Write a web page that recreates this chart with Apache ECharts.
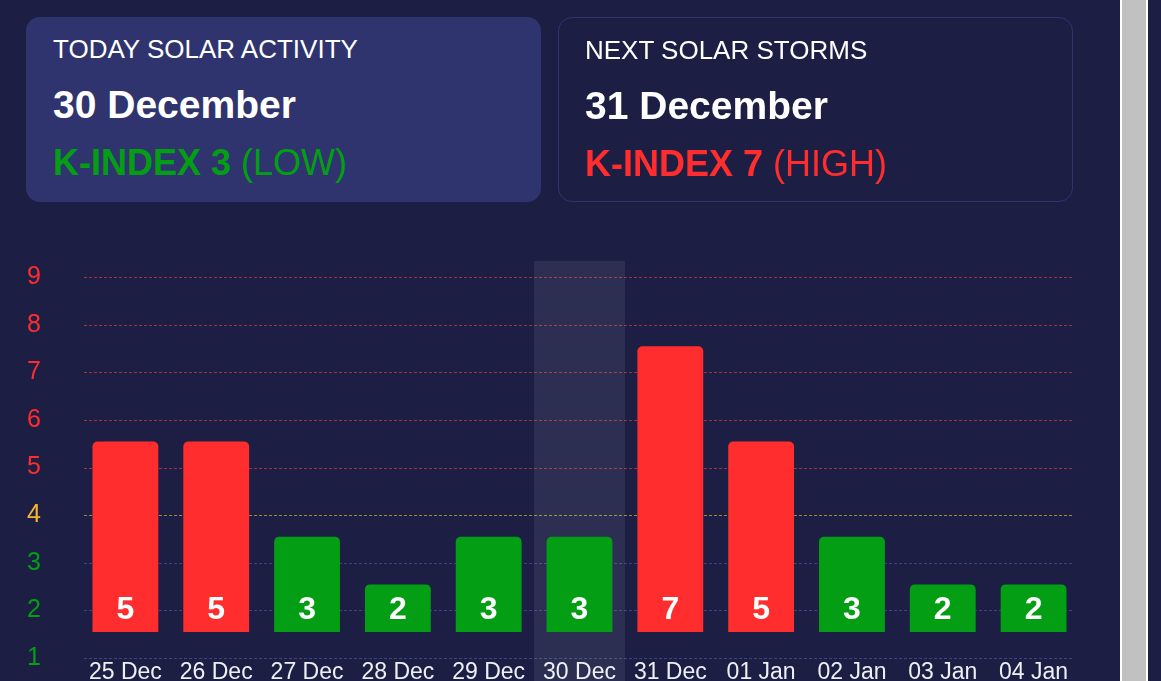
<!DOCTYPE html>
<html>
<head>
<meta charset="utf-8">
<script src="https://cdn.jsdelivr.net/npm/echarts@6/dist/echarts.min.js"></script>
<style>
  html, body { margin:0; padding:0; width:1161px; height:681px; overflow:hidden; background:#1c1f43; font-family:"Liberation Sans", Arial, sans-serif; }
  #chart { position:absolute; left:0; top:0; width:1161px; height:681px; }
  .card { position:absolute; top:17px; width:515px; height:185px; border-radius:14px; box-sizing:border-box; }
  .card1 { left:26px; background:#2f346e; }
  .card2 { left:558px; border:1px solid #2e3472; background:transparent; }
  .t { position:absolute; left:27px; color:#fff; white-space:nowrap; }
  .title { top:17px; font-size:26px; }
  .date { top:66px; font-size:39px; font-weight:bold; }
  .k { top:125px; font-size:36px; }
  .k b { font-weight:bold; }
  .card2 .t { left:26px; }
  .green { color:#039e14; }
  .red { color:#ff2d2d; }
  #scroll { position:absolute; left:1120px; top:0; width:24px; height:681px; background:#c1c1c1; border-left:2px solid #fff; border-right:2px solid #fff; }
</style>
</head>
<body>
<div id="chart"></div>
<div class="card card1">
  <div class="t title">TODAY SOLAR ACTIVITY</div>
  <div class="t date">30 December</div>
  <div class="t k green"><b>K-INDEX 3</b> (LOW)</div>
</div>
<div class="card card2">
  <div class="t title">NEXT SOLAR STORMS</div>
  <div class="t date">31 December</div>
  <div class="t k red"><b>K-INDEX 7</b> (HIGH)</div>
</div>
<div id="scroll"></div>
<script>
// ---- data ----
const categories = ['25 Dec','26 Dec','27 Dec','28 Dec','29 Dec','30 Dec','31 Dec','01 Jan','02 Jan','03 Jan','04 Jan'];
const kIndex = [5, 5, 3, 2, 3, 3, 7, 5, 3, 2, 2];
const yTickLabels = ['1','2','3','4','5','6','7','8','9'];
const todayIndex = 5;
const yMin = 1, yMax = 9;

// ---- styles ----
const RED = '#ff2d2d', GREEN = '#039e14', YELLOW = '#f6b531';
const FONT = '"Liberation Sans", Arial, sans-serif';
function levelColor(v) { return v >= 5 ? RED : (v >= 4 ? YELLOW : GREEN); }
function gridColor(v) { return v >= 5 ? '#a42e48' : (v >= 4 ? '#a88532' : '#3d4380'); }

const chart = echarts.init(document.getElementById('chart'), null, { renderer: 'canvas' });

function renderGridLine(params, api) {
  const v = api.value(1);
  const p = api.coord([0, v]);
  const cs = params.coordSys;
  const y = Math.round(p[1]) + 0.5;
  return {
    type: 'line',
    shape: { x1: cs.x, y1: y, x2: cs.x + cs.width, y2: y },
    style: { stroke: gridColor(v), lineWidth: 1, lineDash: [3, 2] },
    silent: true
  };
}

function renderBar(params, api) {
  const i = api.value(0), v = api.value(1);
  const top = api.coord([i, v]);
  const base = api.coord([i, yMin]);
  const bw = api.size([1, 0])[0] * 0.725;
  const lift = 26;
  return {
    type: 'group',
    children: [
      { type: 'rect',
        shape: { x: top[0] - bw / 2, y: top[1] - lift, width: bw, height: base[1] - top[1], r: [5, 5, 0, 0] },
        style: { fill: levelColor(v) } },
      { type: 'text',
        style: { text: String(v), x: top[0], y: base[1] - lift - 22, align: 'center', verticalAlign: 'middle',
                 fill: '#ffffff', font: 'bold 32px ' + FONT } }
    ]
  };
}

function renderToday(params, api) {
  const i = api.value(0);
  const p = api.coord([i, yMax]);
  const bw = api.size([1, 0])[0];
  const y0 = p[1] - 16;
  return {
    type: 'rect',
    shape: { x: p[0] - bw / 2, y: y0, width: bw, height: api.getHeight() - y0 + 10 },
    style: { fill: 'rgba(255,255,255,0.075)' }
  };
}

chart.setOption({
  backgroundColor: 'transparent',
  animation: false,
  grid: [
    { left: 84, right: 87, top: 277, bottom: 23, outerBoundsMode: 'none', containLabel: false },
    { left: 80, right: 82, top: 277, bottom: 23, outerBoundsMode: 'none', containLabel: false }
  ],
  xAxis: [
    { gridIndex: 0, type: 'category', data: categories, show: false },
    { gridIndex: 1, type: 'category', data: categories,
      axisLine: { show: false }, axisTick: { show: false }, splitLine: { show: false },
      axisLabel: { color: '#eef0f6', fontSize: 23, fontFamily: FONT, margin: 3, interval: 0 } }
  ],
  yAxis: [
    { gridIndex: 0, type: 'value', min: yMin, max: yMax, interval: 1,
      axisLine: { show: false }, axisTick: { show: false },
      axisLabel: { fontSize: 25, fontFamily: FONT, margin: 43,
        formatter: (val) => yTickLabels[val - yMin],
        color: (val) => levelColor(Number(val)) },
      splitLine: { show: false } },
    { gridIndex: 1, type: 'value', min: yMin, max: yMax, interval: 1, show: false, splitLine: { show: false } }
  ],
  series: [
    { type: 'custom', xAxisIndex: 0, yAxisIndex: 0, clip: false, z: 0, silent: true,
      renderItem: renderGridLine, encode: { x: 0, y: 1 },
      data: yTickLabels.map(t => [0, Number(t)]) },
    { type: 'custom', xAxisIndex: 1, yAxisIndex: 1, clip: false, z: 1,
      renderItem: renderToday, data: [[todayIndex, yMax]], silent: true },
    { type: 'custom', xAxisIndex: 1, yAxisIndex: 1, clip: false, z: 2,
      renderItem: renderBar, encode: { x: 0, y: 1 },
      data: kIndex.map((v, i) => [i, v]) }
  ]
});
</script>
</body>
</html>
